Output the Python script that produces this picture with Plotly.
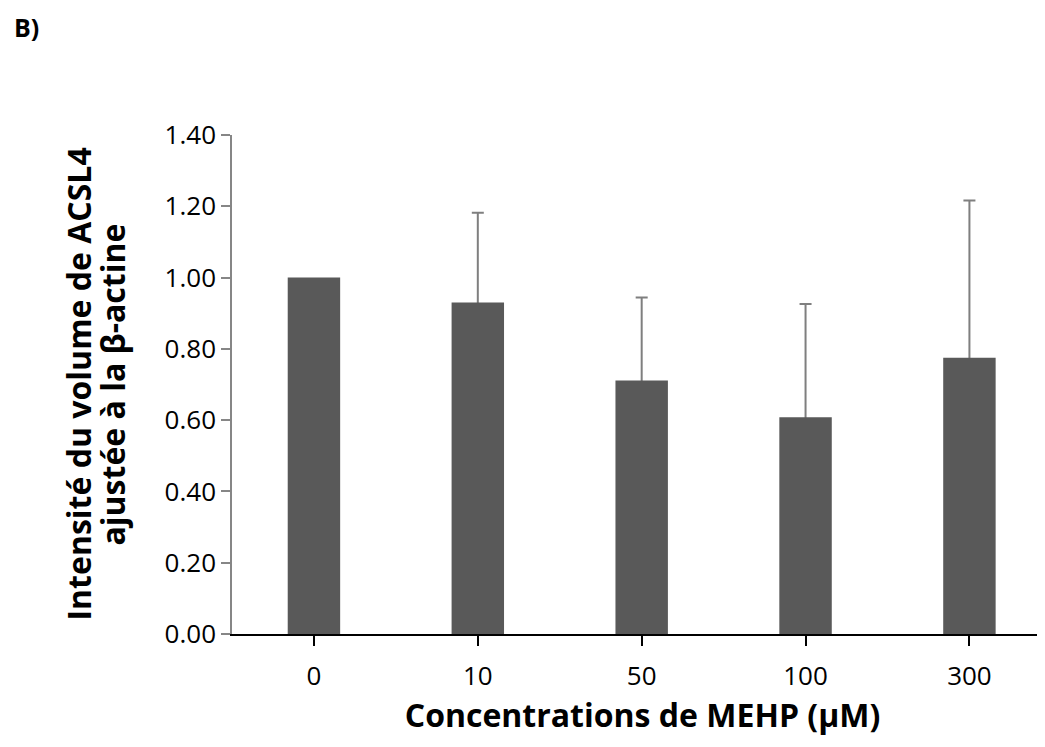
import plotly.graph_objects as go

categories = ["0", "10", "50", "100", "300"]
values = [1.00, 0.93, 0.711, 0.608, 0.775]
errors = [0.0, 0.252, 0.233, 0.318, 0.441]
y_ticks = [0.0, 0.2, 0.4, 0.6, 0.8, 1.0, 1.2, 1.4]
y_tick_labels = ["0.00", "0.20", "0.40", "0.60", "0.80", "1.00", "1.20", "1.40"]
y_title_lines = ["Intensité du volume de ACSL4", "ajustée à la β-actine"]
x_title = "Concentrations de MEHP (µM)"

FONT = "Open Sans, Liberation Sans, sans-serif"
xpos = list(range(len(categories)))
# only bars with a non-zero error get an error bar
err_y_base = [v if e > 0 else None for v, e in zip(values, errors)]

fig = go.Figure()
# error bars (lower half hidden behind the solid bars drawn after)
fig.add_trace(go.Bar(
    x=xpos, y=err_y_base,
    marker=dict(color="rgba(0,0,0,0)", line=dict(width=0)),
    error_y=dict(type="data", array=errors, visible=True,
                 color="#7f7f7f", thickness=2, width=6),
    hoverinfo="skip",
))
fig.add_trace(go.Bar(
    x=xpos, y=values,
    marker=dict(color="#595959", line=dict(width=0)),
))

L, T, B, W, H = 224, 127, 121, 1045, 747
PW, PH = W - L, H - T - B

fig.update_layout(
    width=W, height=H,
    margin=dict(l=L, r=0, t=T, b=B),
    paper_bgcolor="white", plot_bgcolor="white",
    barmode="overlay",
    bargap=0.68,
    showlegend=False,
    font=dict(family=FONT, color="black"),
    xaxis=dict(
        range=[-0.5, 4.51],
        tickmode="array", tickvals=xpos, ticktext=categories,
        showline=True, linecolor="black", linewidth=2,
        showgrid=False, zeroline=False,
        tickson="boundaries", ticks="outside", ticklen=10, tickcolor="black", tickwidth=2,
        ticklabelstandoff=8,
        tickfont=dict(size=26, family=FONT),
        title=dict(text="<b>" + x_title + "</b>", font=dict(size=32, family=FONT), standoff=4),
    ),
    yaxis=dict(
        range=[0, 1.4],
        tickmode="array", tickvals=y_ticks, ticktext=y_tick_labels,
        showline=True, linecolor="#868686", linewidth=1.5,
        showgrid=False, zeroline=False,
        ticks="outside", ticklen=9, tickcolor="#868686", tickwidth=1.5,
        tickfont=dict(size=26, family=FONT),
    ),
)

# two-line y-axis title, placed as rotated text lines
for cx, line in zip([78, 112], y_title_lines):
    fig.add_annotation(text="<b>" + line + "</b>", xref="paper", yref="paper",
                       x=(cx - 8 - L) / PW, y=0.5, textangle=-90,
                       xanchor="center", yanchor="middle", showarrow=False,
                       font=dict(size=32, family=FONT, color="black"))

fig.add_annotation(text="<b>B)</b>", xref="paper", yref="paper",
                   x=-(L - 4) / PW, y=1 + (T - 19) / PH,
                   xanchor="left", yanchor="middle", showarrow=False,
                   font=dict(size=25, family=FONT, color="black"))

fig.write_html("out.html")
